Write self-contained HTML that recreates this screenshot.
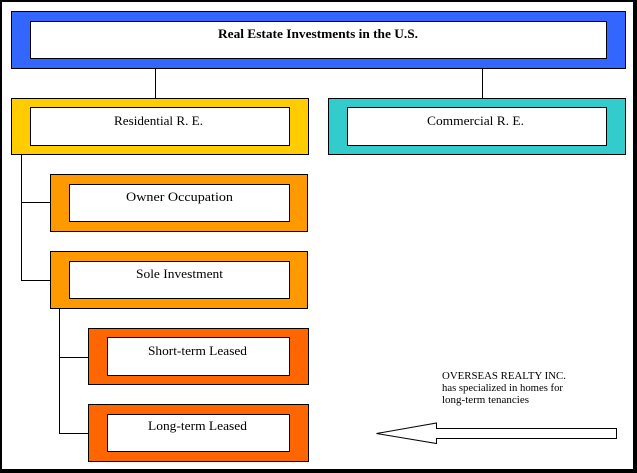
<!DOCTYPE html>
<html><head><meta charset="utf-8"><style>
html,body{margin:0;padding:0;background:#fff;}
svg{display:block;}
text{font-family:"Liberation Serif",serif;fill:#000;}
</style></head><body>
<svg width="637" height="473" viewBox="0 0 637 473" xmlns="http://www.w3.org/2000/svg">
<rect x="0" y="0" width="637" height="473" fill="#fff"/>
<!-- frame -->
<rect x="0" y="0" width="637" height="2" fill="#000"/>
<rect x="0" y="0" width="2" height="473" fill="#000"/>
<rect x="633" y="0" width="4" height="473" fill="#000"/>
<rect x="0" y="469" width="637" height="4" fill="#000"/>

<g stroke="#000" stroke-width="1" shape-rendering="crispEdges">
<!-- connectors -->
<line x1="155.5" y1="68" x2="155.5" y2="98"/>
<line x1="482.5" y1="68" x2="482.5" y2="98"/>
<line x1="21.5" y1="154" x2="21.5" y2="280.5"/>
<line x1="21" y1="202.5" x2="50" y2="202.5"/>
<line x1="21" y1="280.5" x2="50" y2="280.5"/>
<line x1="59.5" y1="308" x2="59.5" y2="433.5"/>
<line x1="59" y1="357.5" x2="88" y2="357.5"/>
<line x1="59" y1="433.5" x2="88" y2="433.5"/>

<!-- top -->
<rect x="11.5" y="11.5" width="614" height="57" fill="#3366FF"/>
<rect x="30.5" y="21.5" width="576" height="37" fill="#fff"/>
<!-- residential -->
<rect x="11.5" y="98.5" width="297" height="56" fill="#FFCC00"/>
<rect x="30.5" y="107.5" width="259" height="38" fill="#fff"/>
<!-- commercial -->
<rect x="328.5" y="98.5" width="297" height="56" fill="#33CCCC"/>
<rect x="347.5" y="107.5" width="259" height="38" fill="#fff"/>
<!-- owner -->
<rect x="50.5" y="174.5" width="257" height="57" fill="#FF9900"/>
<rect x="69.5" y="184.5" width="220" height="37" fill="#fff"/>
<!-- sole -->
<rect x="50.5" y="251.5" width="257" height="57" fill="#FF9900"/>
<rect x="69.5" y="261.5" width="220" height="37" fill="#fff"/>
<!-- short -->
<rect x="88.5" y="328.5" width="220" height="56" fill="#FF6600"/>
<rect x="107.5" y="337.5" width="182" height="38" fill="#fff"/>
<!-- long -->
<rect x="88.5" y="404.5" width="220" height="57" fill="#FF6600"/>
<rect x="107.5" y="414.5" width="182" height="37" fill="#fff"/>
</g>

<!-- arrow -->
<polygon points="376.5,433.5 436.5,423 436.5,428.5 616.5,428.5 616.5,438.5 436.5,438.5 436.5,443.5" fill="#fff" stroke="#000" stroke-width="1"/>

<text x="218" y="38" font-size="13" font-weight="bold" textLength="200" lengthAdjust="spacingAndGlyphs">Real Estate Investments in the U.S.</text>
<text x="114" y="125" font-size="12.5" textLength="89" lengthAdjust="spacingAndGlyphs">Residential R. E.</text>
<text x="427" y="125" font-size="12.5" textLength="97" lengthAdjust="spacingAndGlyphs">Commercial R. E.</text>
<text x="126" y="201" font-size="12.5" textLength="107" lengthAdjust="spacingAndGlyphs">Owner Occupation</text>
<text x="136" y="278" font-size="12.5" textLength="87" lengthAdjust="spacingAndGlyphs">Sole Investment</text>
<text x="148" y="355" font-size="12.5" textLength="99" lengthAdjust="spacingAndGlyphs">Short-term Leased</text>
<text x="148" y="430" font-size="12.5" textLength="99" lengthAdjust="spacingAndGlyphs">Long-term Leased</text>

<text x="442" y="379" font-size="11" textLength="124" lengthAdjust="spacingAndGlyphs">OVERSEAS REALTY INC.</text>
<text x="442" y="391" font-size="11" textLength="121" lengthAdjust="spacingAndGlyphs">has specialized in homes for</text>
<text x="442" y="403" font-size="11" textLength="87" lengthAdjust="spacingAndGlyphs">long-term tenancies</text>
</svg>
</body></html>
